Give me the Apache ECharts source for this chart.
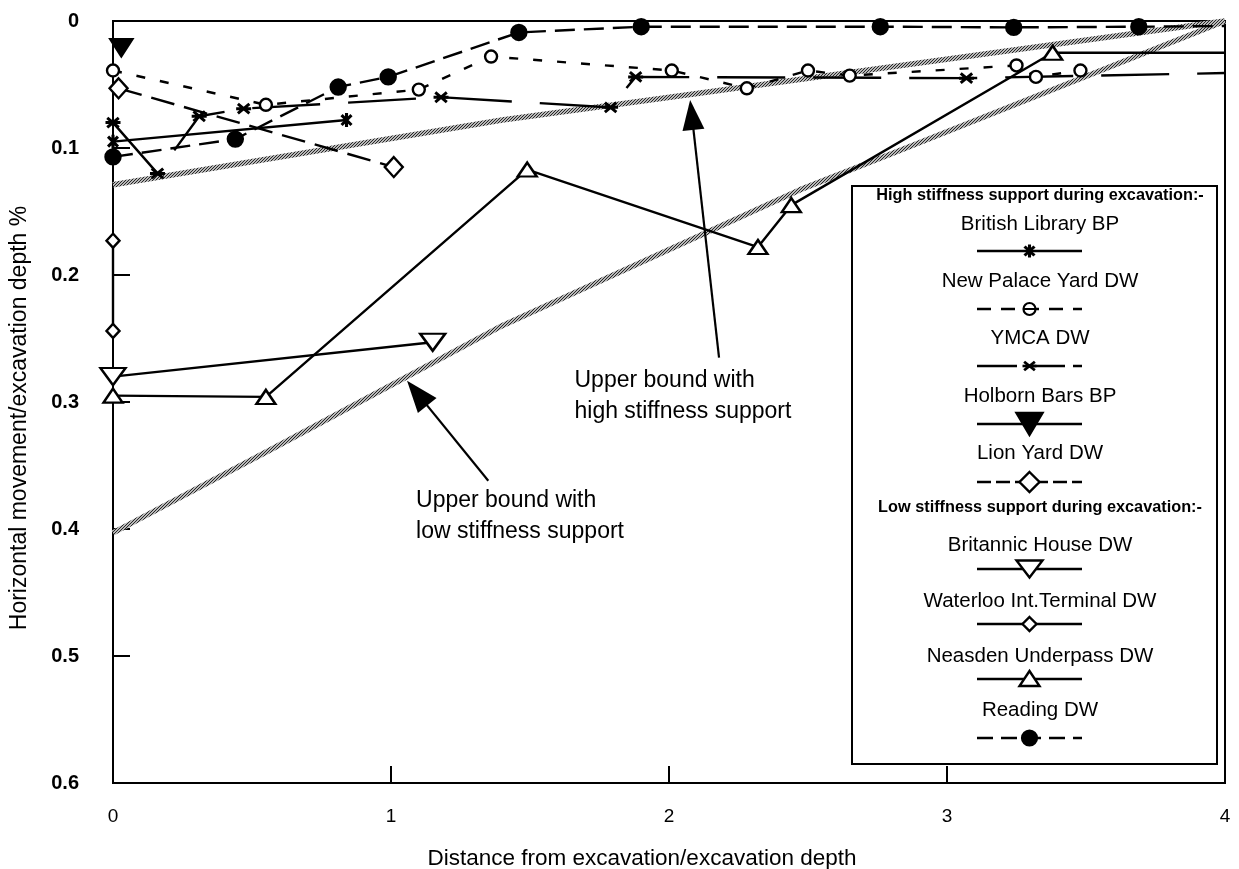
<!DOCTYPE html>
<html>
<head>
<meta charset="utf-8">
<script src="https://cdn.jsdelivr.net/npm/echarts@6/dist/echarts.min.js"></script>
<style>
  html, body { margin: 0; padding: 0; background: #fff; }
  #chart { width: 1239px; height: 869px; }
</style>
</head>
<body>
<div id="chart"></div>
<script>
// ---- data (distance / excavation depth, horizontal movement / excavation depth %) ----
const xTickValues = [0, 1, 2, 3, 4];
const yTickLabels = ['0', '0.1', '0.2', '0.3', '0.4', '0.5', '0.6'];

const britishLibraryBP = [[0, 0.095], [0.84, 0.078]];
const newPalaceYardDW = [[0, 0.039], [0.55, 0.066], [1.10, 0.054], [1.36, 0.028], [2.01, 0.039],
  [2.28, 0.053], [2.50, 0.039], [2.65, 0.043], [3.25, 0.035], [3.32, 0.044], [3.48, 0.039]];
const ymcaDW = [[0, 0.080], [0.16, 0.120], [0.31, 0.075], [0.47, 0.069], [1.18, 0.060],
  [1.79, 0.068], [1.88, 0.044], [3.07, 0.045], [4, 0.041]];
const holbornBarsBP = [[0.03, 0.021]];
const lionYardDW = [[0.02, 0.053], [1.01, 0.115]];
const britannicHouseDW = [[0, 0.280], [1.15, 0.253]];
const waterlooDW = [[0, 0.173], [0, 0.244]];
const neasdenDW = [[0, 0.295], [0.55, 0.296], [1.49, 0.117], [2.32, 0.178], [2.44, 0.145],
  [3.38, 0.025], [4, 0.025]];
const readingDW = [[0, 0.107], [0.44, 0.093], [0.81, 0.052], [0.99, 0.044], [1.46, 0.009],
  [1.90, 0.0045], [2.76, 0.0045], [3.24, 0.005], [3.69, 0.0045], [4, 0.004]];

const upperBoundHigh = [[0, 0.129], [1.40, 0.078], [1.97, 0.061], [2.90, 0.033], [4, 0]];
const upperBoundLow = [[0, 0.403], [0.58, 0.336], [1.39, 0.241], [2.47, 0.133], [2.83, 0.102], [4, 0]];

// ---- styling helpers ----
const FONT = '"Liberation Sans", Arial, Helvetica, sans-serif';
const INK = '#000';

// fine diagonal hatch used for the two upper-bound bands
function hatchPattern() {
  const c = document.createElement('canvas');
  c.width = 3; c.height = 3;
  const g = c.getContext('2d');
  g.fillStyle = '#b8b8b8';
  g.fillRect(0, 0, 3, 3);
  g.fillStyle = '#262626';
  for (let i = 0; i < 3; i++) g.fillRect(i, 2 - i, 1, 1);
  return { image: c, repeat: 'repeat' };
}

// crossing-bar markers: each bar is a thin rectangle through the origin
function barPolys(angles, halfW) {
  return angles.map(function (deg) {
    const r = deg * Math.PI / 180, ux = Math.cos(r), uy = Math.sin(r), nx = -uy, ny = ux;
    return [
      [ux + nx * halfW, uy + ny * halfW], [ux - nx * halfW, uy - ny * halfW],
      [-ux - nx * halfW, -uy - ny * halfW], [-ux + nx * halfW, -uy + ny * halfW]
    ];
  });
}
function polysToPath(polys) {
  return 'path://' + polys.map(function (p) {
    return 'M' + p.map(function (q) { return q[0].toFixed(3) + ',' + q[1].toFixed(3); }).join('L') + 'Z';
  }).join('');
}
const bowtieBars = barPolys([45, 135, 90], 0.22);
const asteriskBars = barPolys([40, 140, 0], 0.2);

const STYLES = {
  british:   { dash: 'solid',   symbol: polysToPath(bowtieBars),   size: 14, fill: INK },
  npy:       { dash: [9, 15],   symbol: 'circle',  size: 12, fill: '#fff' },
  ymca:      { dash: [68, 28],  symbol: polysToPath(asteriskBars), size: 15, fill: INK },
  holborn:   { dash: 'solid',   symbol: 'triangle', size: [22, 17], rotate: 180, fill: INK },
  lion:      { dash: [24, 10],  symbol: 'diamond', size: [18, 20], fill: '#fff' },
  britannic: { dash: 'solid',   symbol: 'triangle', size: [25, 17], rotate: 180, fill: '#fff' },
  waterloo:  { dash: 'solid',   symbol: 'diamond', size: [13, 14], fill: '#fff' },
  neasden:   { dash: 'solid',   symbol: 'triangle', size: [19, 14], fill: '#fff' },
  reading:   { dash: [20, 9],   symbol: 'circle',  size: 15, fill: INK }
};

function dataSeries(name, key, data) {
  const s = STYLES[key];
  return {
    type: 'line', name: name,
    data: data.map(function (p) { return p[0] >= 4 ? { value: p, symbol: 'none' } : p; }),
    symbol: s.symbol, symbolSize: s.size, symbolRotate: s.rotate || 0, symbolKeepAspect: true,
    showAllSymbol: true, clip: false, z: 5,
    lineStyle: { color: INK, width: 2.4, type: s.dash },
    itemStyle: { color: s.fill, borderColor: INK, borderWidth: (s.symbol.indexOf('path') === 0 ? 0 : 2.4) },
    emphasis: { disabled: true }, animation: false
  };
}

const HATCH = hatchPattern();
function boundSeries(name, data) {
  return {
    type: 'line', name: name, data: data, symbol: 'none', z: 3,
    lineStyle: { color: HATCH, width: 5.5, type: 'solid', join: 'round' },
    emphasis: { disabled: true }, animation: false, silent: true
  };
}

const arrowStyle = {
  silent: true, symbol: ['none', 'triangle'], symbolSize: [22, 30],
  lineStyle: { color: INK, width: 2.2, type: 'solid' }, label: { show: false },
  itemStyle: { color: INK }, emphasis: { disabled: true }, animation: false
};

const highBoundSeries = boundSeries('Upper bound with high stiffness support', upperBoundHigh);
highBoundSeries.markLine = Object.assign({}, arrowStyle, {
  data: [[{ coord: [2.18, 0.265] }, { coord: [2.082, 0.074] }]]
});
const lowBoundSeries = boundSeries('Upper bound with low stiffness support', upperBoundLow);
lowBoundSeries.markLine = Object.assign({}, arrowStyle, {
  symbolSize: [24, 32],
  data: [[{ coord: [1.35, 0.362] }, { coord: [1.094, 0.293] }]]
});

const chart = echarts.init(document.getElementById('chart'), null, { renderer: 'canvas' });

const axisFont = { fontFamily: FONT, color: INK };
const option = {
  backgroundColor: '#fff',
  animation: false,
  textStyle: { fontFamily: FONT, color: INK },
  grid: { left: 113, right: 14, top: 21, bottom: 86, show: true, borderColor: INK, borderWidth: 2,
    backgroundColor: 'transparent', outerBoundsMode: 'none', containLabel: false },
  xAxis: {
    type: 'value', min: 0, max: 4, interval: 1, position: 'bottom',
    name: 'Distance from excavation/excavation depth', nameLocation: 'middle', nameGap: 64,
    nameTextStyle: Object.assign({ fontSize: 22.5, padding: [0, 54, 0, 0] }, axisFont),
    axisLine: { show: true, onZero: false, lineStyle: { color: INK, width: 2 } },
    axisTick: { show: true, inside: true, length: 17, lineStyle: { color: INK, width: 2 } },
    axisLabel: Object.assign({ fontSize: 19, margin: 24,
      formatter: function (v) { return xTickValues.indexOf(v) >= 0 ? String(v) : ''; } }, axisFont),
    splitLine: { show: false }
  },
  yAxis: {
    type: 'value', min: 0, max: 0.6, interval: 0.1, inverse: true, position: 'left',
    name: 'Horizontal movement/excavation depth %', nameLocation: 'middle', nameGap: 82,
    nameTextStyle: Object.assign({ fontSize: 23, padding: [0, 32, 0, 0] }, axisFont),
    axisLine: { show: true, onZero: false, lineStyle: { color: INK, width: 2 } },
    axisTick: { show: true, inside: true, length: 17, lineStyle: { color: INK, width: 2 } },
    axisLabel: Object.assign({ fontSize: 20, fontWeight: 'bold', margin: 34,
      formatter: function (v) { return yTickLabels[Math.round(v * 10)]; } }, axisFont),
    splitLine: { show: false }
  },
  series: [
    highBoundSeries,
    lowBoundSeries,
    dataSeries('British Library BP', 'british', britishLibraryBP),
    dataSeries('New Palace Yard DW', 'npy', newPalaceYardDW),
    dataSeries('YMCA DW', 'ymca', ymcaDW),
    dataSeries('Holborn Bars BP', 'holborn', holbornBarsBP),
    dataSeries('Lion Yard DW', 'lion', lionYardDW),
    dataSeries('Britannic House DW', 'britannic', britannicHouseDW),
    dataSeries('Waterloo Int.Terminal DW', 'waterloo', waterlooDW),
    dataSeries('Neasden Underpass DW', 'neasden', neasdenDW),
    dataSeries('Reading DW', 'reading', readingDW)
  ]
};
chart.setOption(option);

// ---- annotations and the boxed key, drawn as graphic elements ----
const graphics = [];
function annotation(lines, coord, lineGap) {
  const p = chart.convertToPixel({ gridIndex: 0 }, coord);
  lines.forEach(function (t, i) {
    graphics.push({ type: 'text', x: p[0], y: p[1] + i * lineGap, z: 20,
      style: { text: t, fontFamily: FONT, fontSize: 23, fill: INK, align: 'left', verticalAlign: 'middle' } });
  });
}
annotation(['Upper bound with', 'high stiffness support'], [1.66, 0.283], 31);
annotation(['Upper bound with', 'low stiffness support'], [1.09, 0.378], 31);

// key box
const key = { left: 852, top: 186, right: 1217, bottom: 764, cx: 1040, sx0: 977, sx1: 1082 };
graphics.push({ type: 'rect', z: 20, shape: { x: key.left, y: key.top, width: key.right - key.left, height: key.bottom - key.top },
  style: { fill: '#fff', stroke: INK, lineWidth: 2 } });

function keyTitle(text, y) {
  graphics.push({ type: 'text', z: 21, x: key.cx, y: y,
    style: { text: text, fontFamily: FONT, fontSize: 16.3, fontWeight: 'bold', fill: INK, align: 'center', verticalAlign: 'middle' } });
}
function keyMarker(kind, x, y) {
  if (kind === 'bowtie' || kind === 'asterisk') {
    const bars = kind === 'bowtie' ? bowtieBars : asteriskBars;
    const sx = 7, sy = 6.5;
    bars.forEach(function (poly) {
      graphics.push({ type: 'polygon', z: 22,
        shape: { points: poly.map(function (q) { return [x + q[0] * sx, y + q[1] * sy]; }) },
        style: { fill: INK } });
    });
  } else if (kind === 'circleOpen' || kind === 'circleFilled') {
    graphics.push({ type: 'circle', z: 22, shape: { cx: x, cy: y, r: kind === 'circleOpen' ? 6 : 7.5 },
      style: { fill: kind === 'circleOpen' ? '#fff' : INK, stroke: INK, lineWidth: 2.2 } });
    if (kind === 'circleOpen') graphics.push({ type: 'line', z: 23, shape: { x1: x - 6, y1: y, x2: x + 6, y2: y }, style: { stroke: INK, lineWidth: 2 } });
  } else if (kind === 'triDown' || kind === 'triDownOpen') {
    const w = 13, h = kind === 'triDown' ? 22 : 17;
    graphics.push({ type: 'polygon', z: 22, shape: { points: [[x - w, y - h / 2], [x + w, y - h / 2], [x, y + h / 2]] },
      style: { fill: kind === 'triDown' ? INK : '#fff', stroke: INK, lineWidth: 2.4 } });
  } else if (kind === 'triUpOpen') {
    graphics.push({ type: 'polygon', z: 22, shape: { points: [[x - 10, y + 7], [x + 10, y + 7], [x, y - 8]] },
      style: { fill: '#fff', stroke: INK, lineWidth: 2.4 } });
  } else if (kind === 'diamondBig' || kind === 'diamondSmall') {
    const r = kind === 'diamondBig' ? 10 : 7;
    graphics.push({ type: 'polygon', z: 22, shape: { points: [[x, y - r], [x + r, y], [x, y + r], [x - r, y]] },
      style: { fill: '#fff', stroke: INK, lineWidth: 2.4 } });
  }
}
function keyEntry(name, ty, sy, dash, marker) {
  graphics.push({ type: 'text', z: 21, x: key.cx, y: ty,
    style: { text: name, fontFamily: FONT, fontSize: 20.5, fill: INK, align: 'center', verticalAlign: 'middle' } });
  const lineStyle = { stroke: INK, lineWidth: 2.4 };
  if (dash) lineStyle.lineDash = dash;
  graphics.push({ type: 'line', z: 21, shape: { x1: key.sx0, y1: sy, x2: key.sx1, y2: sy }, style: lineStyle });
  keyMarker(marker, (key.sx0 + key.sx1) / 2, sy);
}

keyTitle('High stiffness support during excavation:-', 196);
keyEntry('British Library BP', 224, 251, null, 'bowtie');
keyEntry('New Palace Yard DW', 281, 309, [14, 10], 'circleOpen');
keyEntry('YMCA DW', 338, 366, [40, 8], 'asterisk');
keyEntry('Holborn Bars BP', 396, 424, null, 'triDown');
keyEntry('Lion Yard DW', 453, 482, [14, 5], 'diamondBig');
keyTitle('Low stiffness support during excavation:-', 508);
keyEntry('Britannic House DW', 545, 569, null, 'triDownOpen');
keyEntry('Waterloo Int.Terminal DW', 601, 624, null, 'diamondSmall');
keyEntry('Neasden Underpass DW', 656, 679, null, 'triUpOpen');
keyEntry('Reading DW', 710, 738, [16, 8], 'circleFilled');

chart.setOption({ graphic: graphics });
</script>
</body>
</html>
